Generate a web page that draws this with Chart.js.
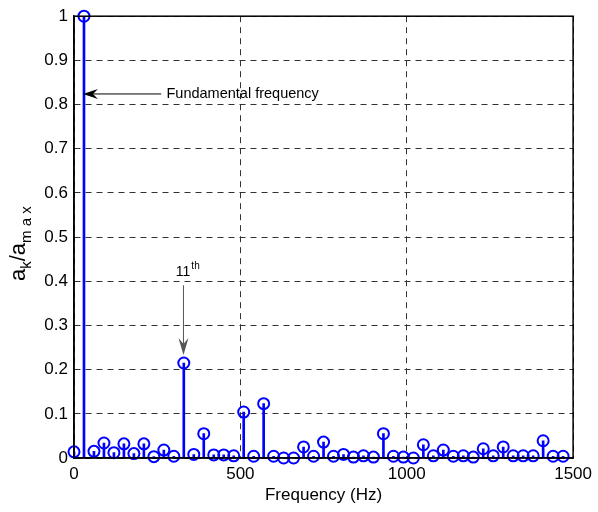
<!DOCTYPE html>
<html>
<head>
<meta charset="utf-8">
<script src="https://cdn.jsdelivr.net/npm/chart.js@4.4.1/dist/chart.umd.min.js"></script>
<style>
html,body{margin:0;padding:0;background:#fff;}
#wrap{width:598px;height:512px;position:relative;}
</style>
</head>
<body>
<div id="wrap"><canvas id="c" width="598" height="512"></canvas></div>
<script>
// Frequencies (Hz) of the spectral lines
const frequencies = [0,30,60,90,120,150,180,210,240,270,300,330,360,390,420,450,480,510,540,570,600,630,660,690,720,750,780,810,840,870,900,930,960,990,1020,1050,1080,1110,1140,1170,1200,1230,1260,1290,1320,1350,1380,1410,1440,1470];
// Normalised amplitudes a_k / a_max
const amplitudes = [0.014,1.0,0.015,0.034,0.012,0.032,0.010,0.032,0.003,0.018,0.004,0.215,0.008,0.055,0.007,0.007,0.005,0.104,0.004,0.123,0.004,0.0,0.0,0.025,0.004,0.036,0.004,0.008,0.002,0.005,0.002,0.055,0.004,0.002,0.0,0.030,0.005,0.018,0.004,0.005,0.002,0.021,0.005,0.025,0.005,0.005,0.005,0.039,0.004,0.004];
const xTicks = [0,500,1000,1500];
const yTicks = [0,0.1,0.2,0.3,0.4,0.5,0.6,0.7,0.8,0.9,1];
const xTitle = 'Frequency (Hz)';
// annotations in data coordinates
const fundArrow = {from:[262,0.824], to:[30,0.824], text:'Fundamental frequency', textAt:[278,0.824]};
const h11Arrow = {from:[329,0.391], to:[329,0.233], text:'11', sup:'th', textAt:[306,0.413]};

const points = frequencies.map((f,i)=>({x:f,y:amplitudes[i]}));
const BLUE = '#0000ff';
const FONT = '"Liberation Sans", Arial, sans-serif';

const decor = {
  id:'decor',
  afterDraw(chart){
    const {ctx, chartArea:a, scales:{x,y}} = chart;
    ctx.save();
    // frame
    ctx.strokeStyle='#000'; ctx.lineWidth=1.5;
    ctx.strokeRect(a.left, a.top, a.right-a.left, a.bottom-a.top);
    // fundamental arrow
    let x1=x.getPixelForValue(fundArrow.from[0]), y1=y.getPixelForValue(fundArrow.from[1]);
    let x2=x.getPixelForValue(fundArrow.to[0])-1, y2=y.getPixelForValue(fundArrow.to[1]);
    ctx.strokeStyle='#000'; ctx.fillStyle='#000'; ctx.lineWidth=1;
    ctx.beginPath(); ctx.moveTo(x1,y1); ctx.lineTo(x2+8,y2); ctx.stroke();
    ctx.beginPath(); ctx.moveTo(x2,y2); ctx.lineTo(x2+15,y2-5); ctx.lineTo(x2+10,y2); ctx.lineTo(x2+15,y2+5); ctx.closePath(); ctx.fill();
    ctx.font='14.5px '+FONT; ctx.textBaseline='middle'; ctx.textAlign='left';
    ctx.fillText(fundArrow.text, x.getPixelForValue(fundArrow.textAt[0]), y.getPixelForValue(fundArrow.textAt[1]));
    // 11th arrow
    const gx=x.getPixelForValue(h11Arrow.from[0]);
    const gy1=y.getPixelForValue(h11Arrow.from[1]), gy2=y.getPixelForValue(h11Arrow.to[1]);
    ctx.strokeStyle='#555'; ctx.fillStyle='#555';
    ctx.beginPath(); ctx.moveTo(gx,gy1); ctx.lineTo(gx,gy2-10); ctx.stroke();
    ctx.beginPath(); ctx.moveTo(gx,gy2); ctx.lineTo(gx-5,gy2-17); ctx.lineTo(gx,gy2-11); ctx.lineTo(gx+5,gy2-17); ctx.closePath(); ctx.fill();
    ctx.fillStyle='#000'; ctx.textBaseline='alphabetic';
    const tx=x.getPixelForValue(h11Arrow.textAt[0]), ty=y.getPixelForValue(h11Arrow.textAt[1]);
    ctx.font='14px '+FONT; ctx.fillText(h11Arrow.text, tx, ty);
    const w=ctx.measureText(h11Arrow.text).width;
    ctx.font='10px '+FONT; ctx.fillText(h11Arrow.sup, tx+w+1, ty-7);
    // y axis title a_k / a_max
    ctx.translate(25, 281); ctx.rotate(-Math.PI/2);
    let cx=0;
    ctx.font='22px '+FONT; ctx.fillText('a',cx,0); cx+=ctx.measureText('a').width;
    ctx.font='15px '+FONT; ctx.fillText('k',cx,6); cx+=ctx.measureText('k').width;
    ctx.font='22px '+FONT; ctx.fillText('/a',cx,0); cx+=ctx.measureText('/a').width;
    ctx.font='15px '+FONT; ctx.fillText('m a x',cx,6);
    ctx.restore();
  }
};

new Chart(document.getElementById('c'), {
  type:'scatter',
  data:{datasets:[
    {type:'bar', data:points, backgroundColor:BLUE, borderWidth:0, barThickness:2, order:2},
    {type:'scatter', data:points, pointRadius:5.5, pointBorderWidth:2, pointBorderColor:BLUE, pointBackgroundColor:'rgba(0,0,0,0)', clip:false, order:1}
  ]},
  options:{
    responsive:false, animation:false, events:[],
    layout:{padding:{top:15,right:21,left:0,bottom:0}},
    plugins:{legend:{display:false}, tooltip:{enabled:false}},
    scales:{
      x:{type:'linear', min:0, max:1500, position:'bottom', offset:false,
        afterBuildTicks(s){ s.ticks = xTicks.map(v=>({value:v})); },
        afterFit(s){ s.height = 54; },
        grid:{color:'#333', lineWidth:1, drawTicks:false, offset:false},
        border:{display:true, color:'#000', width:1.5, dash:[6,5]},
        ticks:{color:'#000', font:{family:FONT,size:17}, padding:6, maxRotation:0, callback:v=>String(v)},
        title:{display:true, text:xTitle, color:'#000', font:{family:FONT,size:17}, padding:{top:0,bottom:6}}
      },
      y:{type:'linear', min:0, max:1,
        afterBuildTicks(s){ s.ticks = yTicks.map(v=>({value:v})); },
        afterFit(s){ s.width = 74; },
        grid:{color:'#333', lineWidth:1, drawTicks:false},
        border:{display:true, color:'#000', width:1.5, dash:[6,5]},
        ticks:{color:'#000', font:{family:FONT,size:17}, padding:6, callback:v=>String(+v.toFixed(1))}
      }
    }
  },
  plugins:[decor]
});
</script>
</body>
</html>
